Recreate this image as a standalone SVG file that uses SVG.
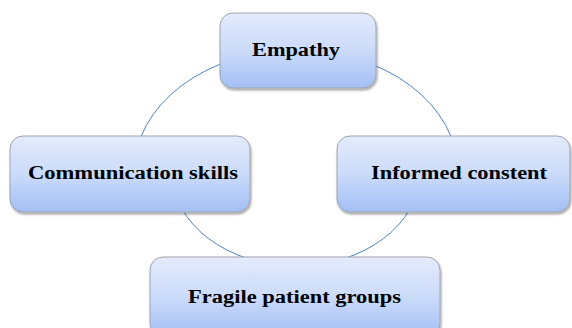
<svg xmlns="http://www.w3.org/2000/svg" width="572" height="328" viewBox="0 0 572 328">
  <defs>
    <linearGradient id="boxFill" x1="0" y1="0" x2="0" y2="1">
      <stop offset="0" stop-color="#e4ebfc"/>
      <stop offset="0.5" stop-color="#cbdbfa"/>
      <stop offset="1" stop-color="#a3bff5"/>
    </linearGradient>
    <filter id="shadow" x="-10%" y="-10%" width="125%" height="130%">
      <feDropShadow dx="1" dy="2" stdDeviation="1.2" flood-color="#000000" flood-opacity="0.35"/>
    </filter>
    <style>
      .box { fill: url(#boxFill); stroke: #9ea4ad; stroke-width: 1; filter: url(#shadow); }
      .label { font-family: "Liberation Serif", "Times New Roman", serif; font-weight: bold; font-size: 18px; fill: #000000; text-anchor: middle; }
      .arc { fill: none; stroke: #4f81c9; stroke-width: 1; }
    </style>
  </defs>
  <rect width="572" height="328" fill="#ffffff"/>
  <g id="connectors">
    <path class="arc" d="M134,172 A162,122 0 0 1 458,172"/>
    <path class="arc" d="M172,172 A124,94 0 0 0 420,172"/>
  </g>
  <g id="empathy">
    <rect class="box" x="220" y="13" width="156" height="75" rx="13" ry="13"/>
    <text class="label" x="296" y="56" textLength="88" lengthAdjust="spacingAndGlyphs">Empathy</text>
  </g>
  <g id="communication">
    <rect class="box" x="10" y="136" width="240" height="76" rx="13" ry="13"/>
    <text class="label" x="133" y="179" textLength="210" lengthAdjust="spacingAndGlyphs">Communication skills</text>
  </g>
  <g id="informed">
    <rect class="box" x="337" y="136" width="233" height="76" rx="13" ry="13"/>
    <text class="label" x="459" y="179" textLength="176" lengthAdjust="spacingAndGlyphs">Informed constent</text>
  </g>
  <g id="fragile">
    <rect class="box" x="150" y="257" width="290" height="80" rx="13" ry="13"/>
    <text class="label" x="294.5" y="303" textLength="213" lengthAdjust="spacingAndGlyphs">Fragile patient groups</text>
  </g>
</svg>
